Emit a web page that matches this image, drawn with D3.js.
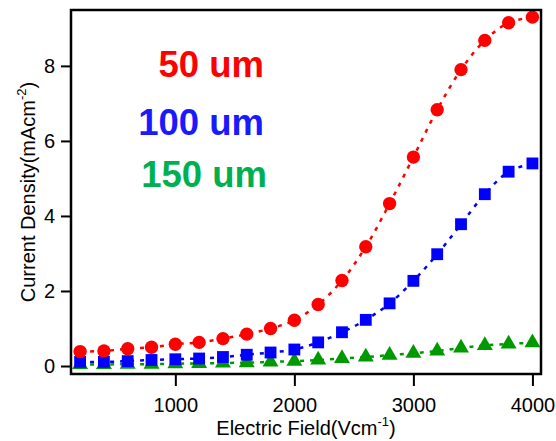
<!DOCTYPE html>
<html><head><meta charset="utf-8">
<script src="https://cdn.jsdelivr.net/npm/d3@7"></script>
<style>body{margin:0;background:#fff}svg{display:block}</style>
</head><body><svg id="c" width="556" height="441"></svg>
<script>
const field = [200,400,600,800,1000,1200,1400,1600,1800,2000,2200,2400,2600,2800,3000,3200,3400,3600,3800,4000];
const j50  = [0.385,0.40,0.46,0.50,0.58,0.63,0.73,0.85,1.0,1.22,1.64,2.28,3.18,4.33,5.57,6.83,7.9,8.68,9.15,9.3];
const j100 = [0.11,0.11,0.13,0.16,0.18,0.20,0.24,0.30,0.36,0.44,0.63,0.90,1.23,1.67,2.27,2.98,3.78,4.58,5.18,5.4];
const j150 = [0.04,0.04,0.05,0.05,0.06,0.07,0.08,0.09,0.11,0.13,0.16,0.2,0.24,0.29,0.34,0.40,0.48,0.55,0.59,0.62];
const seriesNames = ["50 um","100 um","150 um"];
const xTicks = [1000,2000,3000,4000];
const yTicks = [0,2,4,6,8];

const svg = d3.select("#c");
const L=71,R=541,T=10,B=374;
const x = d3.scaleLinear().domain([123.5,4072]).range([L,R]);
const y = d3.scaleLinear().domain([-0.213,9.49]).range([B,T]);
const font = "Liberation Sans, Arial, sans-serif";

const series = [
  {v:j50, color:"#ff0000", sym:d3.symbolCircle, size:140, label:seriesNames[0], lc:"#ff0000", lx:264, ly:77},
  {v:j100, color:"#0000ff", sym:d3.symbolSquare, size:140, label:seriesNames[1], lc:"#1a1aff", lx:264, ly:135},
  {v:j150, color:"#009a00", sym:d3.symbolTriangle, size:110, label:seriesNames[2], lc:"#00b050", lx:267, ly:187}
];

const line = d3.line().x((d,i)=>x(field[i])).y(d=>y(d)).curve(d3.curveCatmullRom);
const g = svg.append("g");
series.slice().reverse().forEach(s=>{
  g.append("path").attr("d", line(s.v)).attr("fill","none").attr("stroke",s.color)
   .attr("stroke-width",2.5).attr("stroke-dasharray","4,6");
});
series.slice().reverse().forEach(s=>{
  g.selectAll(null).data(s.v).enter().append("path")
   .attr("d", d3.symbol().type(s.sym).size(s.size))
   .attr("transform",(d,i)=>`translate(${x(field[i])},${y(d)})`)
   .attr("fill",s.color);
});

// frame
svg.append("rect").attr("x",L).attr("y",T).attr("width",R-L).attr("height",B-T)
  .attr("fill","none").attr("stroke","#000").attr("stroke-width",2.5);

const xa = svg.append("g").attr("transform",`translate(0,${B})`)
  .call(d3.axisBottom(x).tickValues(xTicks).tickSize(12).tickPadding(12).tickFormat(d3.format("d")));
const ya = svg.append("g").attr("transform",`translate(${L},0)`)
  .call(d3.axisLeft(y).tickValues(yTicks).tickSize(10).tickPadding(6));
[xa,ya].forEach(a=>{
  a.select(".domain").remove();
  a.selectAll(".tick line").attr("stroke","#000").attr("stroke-width",2);
  a.selectAll("text").attr("font-family",font).attr("font-size",20).attr("fill","#000");
});

svg.append("text").attr("x",306).attr("y",435).attr("text-anchor","middle")
  .attr("font-family",font).attr("font-size",20)
  .html('Electric Field(Vcm<tspan dy="-9" font-size="13">-1</tspan><tspan dy="9">)</tspan>');
svg.append("text").attr("transform","translate(35,192) rotate(-90)").attr("text-anchor","middle")
  .attr("font-family",font).attr("font-size",20)
  .html('Current Density(mAcm<tspan dy="-9" font-size="13">-2</tspan><tspan dy="9">)</tspan>');

series.forEach(s=>{
  svg.append("text").attr("x",s.lx).attr("y",s.ly).attr("text-anchor","end")
    .attr("font-family",font).attr("font-weight","bold").attr("font-size",36.5)
    .attr("fill",s.lc).text(s.label);
});
</script></body></html>
